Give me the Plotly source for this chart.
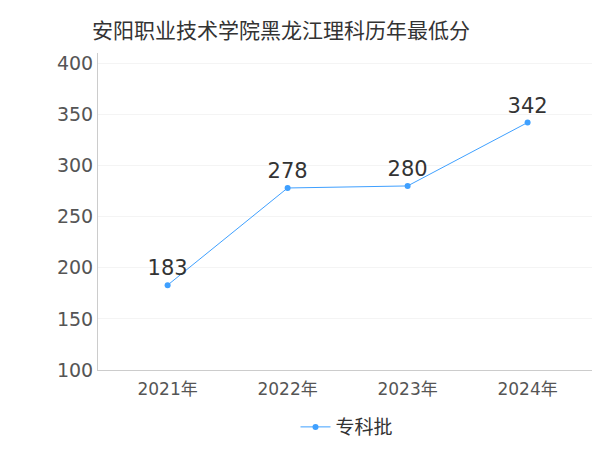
import plotly.graph_objects as go

years = ["2021年", "2022年", "2023年", "2024年"]
scores = [183, 278, 280, 342]
series_name = "专科批"

fig = go.Figure()
fig.add_trace(go.Scatter(
    x=years, y=scores, name=series_name,
    mode="lines+markers+text",
    text=[str(s) for s in scores], textposition="top center",
    textfont=dict(size=21, color="#333333"),
    line=dict(color="#3fa0ff", width=1),
    marker=dict(color="#3fa0ff", size=6),
))
fig.update_layout(
    width=600, height=450,
    font=dict(family="DejaVu Sans, Noto Sans CJK SC", color="#555555"),
    title=dict(text="安阳职业技术学院黑龙江理科历年最低分", x=0.14, y=0.965,
               font=dict(size=21, color="#333333")),
    plot_bgcolor="white", paper_bgcolor="white",
    margin=dict(l=90, r=12, t=45, b=80),
    showlegend=True,
    legend=dict(orientation="h", x=0.5, xanchor="center", y=-0.12,
                font=dict(size=19, color="#333333")),
    xaxis=dict(range=[-0.58, 3.57], showline=True, linecolor="#cccccc", showgrid=False,
               tickfont=dict(size=17), ticks="outside", ticklen=4, tickcolor="white"),
    yaxis=dict(range=[100, 410], dtick=50, showline=True, linecolor="#cccccc",
               gridcolor="#f4f4f4", tickfont=dict(size=19), zeroline=False),
)
fig.write_html("out.html")
